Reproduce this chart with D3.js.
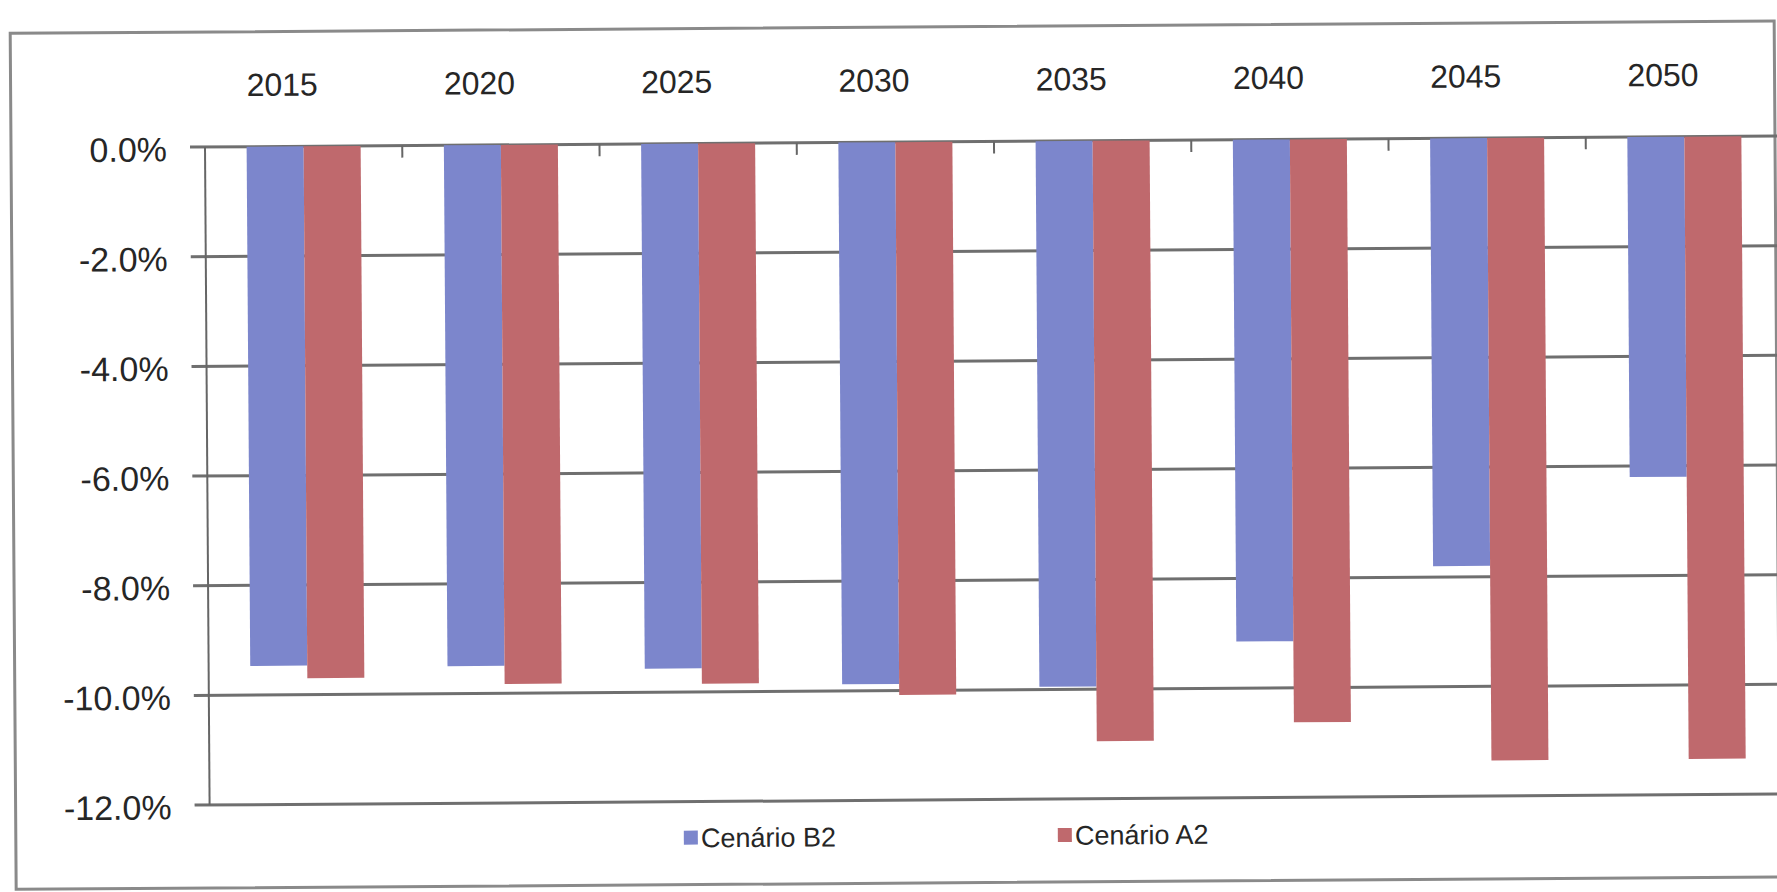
<!DOCTYPE html>
<html>
<head>
<meta charset="utf-8">
<script src="https://cdn.jsdelivr.net/npm/d3@7"></script>
<style>
  html, body { margin: 0; padding: 0; background: #fff; }
  svg { display: block; }
  text { font-family: "Liberation Sans", Arial, sans-serif; fill: #262626; }
</style>
</head>
<body>
<div id="chart"></div>
<script>
// Data
const years = ['2015', '2020', '2025', '2030', '2035', '2040', '2045', '2050'];
const seriesNames = ['Cenário B2', 'Cenário A2'];
const cenarioB2 = [-9.47, -9.5, -9.57, -9.88, -9.95, -9.15, -7.8, -6.2];
const cenarioA2 = [-9.7, -9.83, -9.85, -10.08, -10.95, -10.63, -11.35, -11.35];
const yTicks = [0, -2, -4, -6, -8, -10, -12];

function drawChart(containerId = 'chart') {
    d3.select(`#${containerId}`).html('');

    const width = 1777;
    const height = 892;
    const plot = { left: 205, right: 1783, top: 147, bottom: 805 };

    const svg = d3.select(`#${containerId}`)
        .append('svg')
        .attr('width', width)
        .attr('height', height);

    // the scan is a little rotated, pivot on the plot corner
    const g = svg.append('g')
        .attr('transform', `rotate(-0.4, ${plot.left}, ${plot.top})`);

    // Outer frame
    g.append('rect')
        .attr('x', 11)
        .attr('y', 32)
        .attr('width', 1764)
        .attr('height', 856)
        .attr('fill', 'none')
        .attr('stroke', '#8a8a8a')
        .attr('stroke-width', 3);

    const x0 = d3.scaleBand()
        .domain(years)
        .range([plot.left, plot.right])
        .paddingInner(0)
        .paddingOuter(0);

    const x1 = d3.scaleBand()
        .domain(seriesNames)
        .range([0, x0.bandwidth()])
        .paddingInner(0)
        .paddingOuter(0.73);

    const y = d3.scaleLinear()
        .domain([0, -12])
        .range([plot.top, plot.bottom]);

    const color = d3.scaleOrdinal()
        .domain(seriesNames)
        .range(['#7c86cc', '#bf696d']);

    // Gridlines
    g.append('g')
        .selectAll('line')
        .data(yTicks)
        .enter()
        .append('line')
        .attr('x1', plot.left - 15)
        .attr('x2', width + 20)
        .attr('y1', d => y(d))
        .attr('y2', d => y(d))
        .attr('stroke', '#6f6f6f')
        .attr('stroke-width', 3);

    // Y axis labels
    const yAxis = d3.axisLeft(y)
        .tickValues(yTicks)
        .tickFormat(d => d.toFixed(1) + '%')
        .tickSize(0)
        .tickPadding(38);

    const yAxisG = g.append('g')
        .attr('transform', `translate(${plot.left}, 0)`)
        .call(yAxis);
    yAxisG.select('.domain').remove();
    yAxisG.selectAll('text')
        .style('font-size', '34px')
        .attr('dy', '0.4em');

    // Vertical axis line
    g.append('line')
        .attr('x1', plot.left)
        .attr('x2', plot.left)
        .attr('y1', y(0))
        .attr('y2', y(-12))
        .attr('stroke', '#666')
        .attr('stroke-width', 2);

    // Category tick marks on the zero line
    g.append('g')
        .selectAll('line')
        .data(years.slice(1))
        .enter()
        .append('line')
        .attr('x1', d => x0(d))
        .attr('x2', d => x0(d))
        .attr('y1', y(0))
        .attr('y2', y(0) + 12)
        .attr('stroke', '#666')
        .attr('stroke-width', 2);

    // Category labels above the plot
    g.append('g')
        .selectAll('text')
        .data(years)
        .enter()
        .append('text')
        .attr('x', d => x0(d) + x0.bandwidth() / 2 - 21)
        .attr('y', 85)
        .attr('dy', '0.35em')
        .attr('text-anchor', 'middle')
        .style('font-size', '32px')
        .text(d => d);

    // Bars
    const rows = years.map((year, i) => ({
        year: year,
        values: [
            { name: seriesNames[0], value: cenarioB2[i] },
            { name: seriesNames[1], value: cenarioA2[i] }
        ]
    }));

    g.append('g')
        .selectAll('g')
        .data(rows)
        .enter()
        .append('g')
        .attr('transform', d => `translate(${x0(d.year)}, 0)`)
        .selectAll('rect')
        .data(d => d.values)
        .enter()
        .append('rect')
        .attr('x', d => x1(d.name))
        .attr('y', y(0))
        .attr('width', x1.bandwidth())
        .attr('height', d => y(d.value) - y(0))
        .attr('fill', d => color(d.name));

    // Legend
    const legendX = d3.scalePoint()
        .domain(seriesNames)
        .range([686, 1060]);

    const legend = g.append('g')
        .selectAll('g')
        .data(seriesNames)
        .enter()
        .append('g')
        .attr('transform', d => `translate(${legendX(d)}, 841)`);

    legend.append('rect')
        .attr('x', -7)
        .attr('y', -7)
        .attr('width', 14)
        .attr('height', 14)
        .attr('fill', d => color(d));

    legend.append('text')
        .attr('x', 10)
        .attr('dy', '0.36em')
        .style('font-size', '27px')
        .text(d => d);
}

drawChart();
</script>
</body>
</html>
